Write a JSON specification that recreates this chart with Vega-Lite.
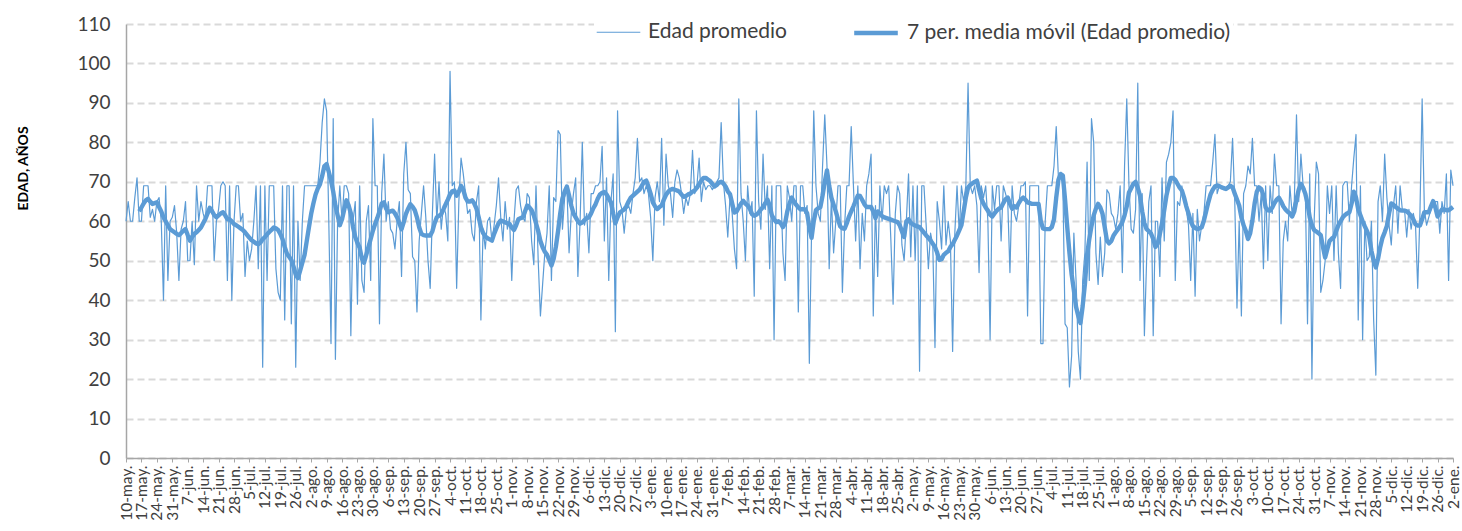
{
"$schema": "https://vega.github.io/schema/vega-lite/v6.json",
"width": 1327, "height": 434,
"padding": {"left": 16, "top": 7, "right": 4, "bottom": 0},
"background": "white",
"config": {"view": {"stroke": null}},
"data": {"values": [
{"f":"2020-05-10","e":60},{"f":"2020-05-11","e":65},{"f":"2020-05-12","e":60},{"f":"2020-05-13","e":60},{"f":"2020-05-14","e":66},{"f":"2020-05-15","e":71},
{"f":"2020-05-16","e":60,"m":62.5},{"f":"2020-05-17","e":60,"m":63.5},{"f":"2020-05-18","e":69,"m":64.5},{"f":"2020-05-19","e":69,"m":65.3},{"f":"2020-05-20","e":69,"m":65.7},{"f":"2020-05-21","e":61,"m":65},{"f":"2020-05-22","e":63,"m":64.4},{"f":"2020-05-23","e":60,"m":64.6},{"f":"2020-05-24","e":65,"m":64.8},{"f":"2020-05-25","e":66,"m":63.6},{"f":"2020-05-26","e":60,"m":62.5},{"f":"2020-05-27","e":40,"m":61},{"f":"2020-05-28","e":69,"m":60},{"f":"2020-05-29","e":45,"m":59},{"f":"2020-05-30","e":60,"m":58},{"f":"2020-05-31","e":61,"m":57.6},
{"f":"2020-06-01","e":64,"m":57.2},{"f":"2020-06-02","e":57,"m":56.8},{"f":"2020-06-03","e":45,"m":56.5},{"f":"2020-06-04","e":58,"m":57},{"f":"2020-06-05","e":60,"m":57.6},{"f":"2020-06-06","e":65,"m":58},{"f":"2020-06-07","e":50,"m":56.5},{"f":"2020-06-08","e":50,"m":55.1},{"f":"2020-06-09","e":60,"m":56},{"f":"2020-06-10","e":49,"m":56.8},{"f":"2020-06-11","e":69,"m":57.2},{"f":"2020-06-12","e":60,"m":57.8},{"f":"2020-06-13","e":65,"m":58.4},{"f":"2020-06-14","e":62,"m":59.5},{"f":"2020-06-15","e":60,"m":60.6},{"f":"2020-06-16","e":69,"m":62},{"f":"2020-06-17","e":69,"m":63.4},{"f":"2020-06-18","e":69,"m":62.6},{"f":"2020-06-19","e":50,"m":61.6},{"f":"2020-06-20","e":60,"m":61},{"f":"2020-06-21","e":63,"m":61.5},{"f":"2020-06-22","e":69,"m":62},{"f":"2020-06-23","e":70,"m":62.3},{"f":"2020-06-24","e":69,"m":61.5},{"f":"2020-06-25","e":45,"m":60.5},{"f":"2020-06-26","e":69,"m":60.5},{"f":"2020-06-27","e":40,"m":60},{"f":"2020-06-28","e":60,"m":59.3},{"f":"2020-06-29","e":69,"m":59},{"f":"2020-06-30","e":69,"m":58.6},
{"f":"2020-07-01","e":60,"m":58.2},{"f":"2020-07-02","e":62,"m":57.8},{"f":"2020-07-03","e":46,"m":57.2},{"f":"2020-07-04","e":55,"m":56.5},{"f":"2020-07-05","e":50,"m":55.8},{"f":"2020-07-06","e":53,"m":55.2},{"f":"2020-07-07","e":60,"m":54.8},{"f":"2020-07-08","e":69,"m":54.4},{"f":"2020-07-09","e":48,"m":54.2},{"f":"2020-07-10","e":69,"m":54.6},{"f":"2020-07-11","e":23,"m":55.5},{"f":"2020-07-12","e":69,"m":56},{"f":"2020-07-13","e":45,"m":56.7},{"f":"2020-07-14","e":69,"m":57.3},{"f":"2020-07-15","e":69,"m":57.8},{"f":"2020-07-16","e":69,"m":58.4},{"f":"2020-07-17","e":48,"m":58.2},{"f":"2020-07-18","e":42,"m":57.8},{"f":"2020-07-19","e":40,"m":56.8},{"f":"2020-07-20","e":69,"m":55.5},{"f":"2020-07-21","e":35,"m":53.5},{"f":"2020-07-22","e":69,"m":51.8},{"f":"2020-07-23","e":69,"m":51},{"f":"2020-07-24","e":34,"m":50.2},{"f":"2020-07-25","e":69,"m":48.5},{"f":"2020-07-26","e":23,"m":46.5},{"f":"2020-07-27","e":60,"m":45.6},{"f":"2020-07-28","e":45,"m":47.5},{"f":"2020-07-29","e":60,"m":49.5},{"f":"2020-07-30","e":69,"m":51.5},{"f":"2020-07-31","e":69,"m":55},
{"f":"2020-08-01","e":69,"m":58.5},{"f":"2020-08-02","e":69,"m":61.9},{"f":"2020-08-03","e":69,"m":64.5},{"f":"2020-08-04","e":69,"m":66.8},{"f":"2020-08-05","e":69,"m":68.3},{"f":"2020-08-06","e":75,"m":69.4},{"f":"2020-08-07","e":85,"m":71.5},{"f":"2020-08-08","e":91,"m":74},{"f":"2020-08-09","e":88,"m":74.5},{"f":"2020-08-10","e":60,"m":72.5},{"f":"2020-08-11","e":29,"m":70.3},{"f":"2020-08-12","e":86,"m":67.5},{"f":"2020-08-13","e":25,"m":64},{"f":"2020-08-14","e":60,"m":61.5},{"f":"2020-08-15","e":69,"m":59},{"f":"2020-08-16","e":60,"m":60.5},{"f":"2020-08-17","e":69,"m":63},{"f":"2020-08-18","e":69,"m":65.3},{"f":"2020-08-19","e":67,"m":64},{"f":"2020-08-20","e":31,"m":62},{"f":"2020-08-21","e":60,"m":58.5},{"f":"2020-08-22","e":65,"m":56},{"f":"2020-08-23","e":39,"m":54.5},{"f":"2020-08-24","e":69,"m":53.3},{"f":"2020-08-25","e":45,"m":50.5},{"f":"2020-08-26","e":42,"m":49.5},{"f":"2020-08-27","e":60,"m":51.5},{"f":"2020-08-28","e":64,"m":53.5},{"f":"2020-08-29","e":45,"m":55.5},{"f":"2020-08-30","e":86,"m":57.6},{"f":"2020-08-31","e":69,"m":59.3},
{"f":"2020-09-01","e":69,"m":60.8},{"f":"2020-09-02","e":34,"m":62.5},{"f":"2020-09-03","e":67,"m":64.5},{"f":"2020-09-04","e":77,"m":64.8},{"f":"2020-09-05","e":60,"m":63.2},{"f":"2020-09-06","e":65,"m":62.3},{"f":"2020-09-07","e":58,"m":62.5},{"f":"2020-09-08","e":57,"m":62.7},{"f":"2020-09-09","e":53,"m":62},{"f":"2020-09-10","e":60,"m":61},{"f":"2020-09-11","e":65,"m":59.5},{"f":"2020-09-12","e":46,"m":58},{"f":"2020-09-13","e":72,"m":59.8},{"f":"2020-09-14","e":80,"m":61.9},{"f":"2020-09-15","e":68,"m":63.2},{"f":"2020-09-16","e":67,"m":64.3},{"f":"2020-09-17","e":51,"m":63.7},{"f":"2020-09-18","e":50,"m":62.8},{"f":"2020-09-19","e":37,"m":61},{"f":"2020-09-20","e":55,"m":58.5},{"f":"2020-09-21","e":62,"m":56.8},{"f":"2020-09-22","e":69,"m":56.5},{"f":"2020-09-23","e":61,"m":56.4},{"f":"2020-09-24","e":50,"m":56.4},{"f":"2020-09-25","e":43,"m":56.4},{"f":"2020-09-26","e":62,"m":57.5},{"f":"2020-09-27","e":77,"m":59.5},{"f":"2020-09-28","e":60,"m":61},{"f":"2020-09-29","e":70,"m":61.4},{"f":"2020-09-30","e":58,"m":61.8},
{"f":"2020-10-01","e":64,"m":63},{"f":"2020-10-02","e":62,"m":64.3},{"f":"2020-10-03","e":55,"m":65.5},{"f":"2020-10-04","e":98,"m":66.8},{"f":"2020-10-05","e":69,"m":67.6},{"f":"2020-10-06","e":70,"m":67.8},{"f":"2020-10-07","e":43,"m":66.5},{"f":"2020-10-08","e":65,"m":67.5},{"f":"2020-10-09","e":76,"m":69},{"f":"2020-10-10","e":72,"m":68},{"f":"2020-10-11","e":67,"m":66},{"f":"2020-10-12","e":62,"m":65},{"f":"2020-10-13","e":63,"m":65},{"f":"2020-10-14","e":57,"m":65.3},{"f":"2020-10-15","e":55,"m":64.5},{"f":"2020-10-16","e":65,"m":63.2},{"f":"2020-10-17","e":69,"m":61},{"f":"2020-10-18","e":35,"m":58.5},{"f":"2020-10-19","e":58,"m":57},{"f":"2020-10-20","e":53,"m":56.2},{"f":"2020-10-21","e":60,"m":55.7},{"f":"2020-10-22","e":61,"m":55.4},{"f":"2020-10-23","e":55,"m":55.1},{"f":"2020-10-24","e":59,"m":56.8},{"f":"2020-10-25","e":64,"m":58.2},{"f":"2020-10-26","e":71,"m":59.5},{"f":"2020-10-27","e":61,"m":60.2},{"f":"2020-10-28","e":55,"m":60},{"f":"2020-10-29","e":65,"m":59.7},{"f":"2020-10-30","e":58,"m":59.5},{"f":"2020-10-31","e":61,"m":59.3},
{"f":"2020-11-01","e":45,"m":58.4},{"f":"2020-11-02","e":60,"m":57.8},{"f":"2020-11-03","e":68,"m":59},{"f":"2020-11-04","e":69,"m":60.5},{"f":"2020-11-05","e":64,"m":60.8},{"f":"2020-11-06","e":61,"m":61},{"f":"2020-11-07","e":60,"m":62.5},{"f":"2020-11-08","e":67,"m":64},{"f":"2020-11-09","e":66,"m":63.5},{"f":"2020-11-10","e":55,"m":62.8},{"f":"2020-11-11","e":49,"m":61.5},{"f":"2020-11-12","e":69,"m":59.5},{"f":"2020-11-13","e":50,"m":57.5},{"f":"2020-11-14","e":36,"m":55},{"f":"2020-11-15","e":44,"m":53.4},{"f":"2020-11-16","e":52,"m":52.3},{"f":"2020-11-17","e":57,"m":51.5},{"f":"2020-11-18","e":69,"m":50.2},{"f":"2020-11-19","e":45,"m":48.8},{"f":"2020-11-20","e":66,"m":50.5},{"f":"2020-11-21","e":65,"m":53.5},{"f":"2020-11-22","e":83,"m":57.5},{"f":"2020-11-23","e":82,"m":62},{"f":"2020-11-24","e":58,"m":65.8},{"f":"2020-11-25","e":66,"m":67.5},{"f":"2020-11-26","e":69,"m":68.8},{"f":"2020-11-27","e":52,"m":66.5},{"f":"2020-11-28","e":62,"m":64},{"f":"2020-11-29","e":67,"m":62},{"f":"2020-11-30","e":71,"m":61},
{"f":"2020-12-01","e":46,"m":60},{"f":"2020-12-02","e":60,"m":59.4},{"f":"2020-12-03","e":80,"m":59.7},{"f":"2020-12-04","e":59,"m":60.3},{"f":"2020-12-05","e":62,"m":60.8},{"f":"2020-12-06","e":52,"m":61},{"f":"2020-12-07","e":67,"m":62},{"f":"2020-12-08","e":67,"m":63.3},{"f":"2020-12-09","e":69,"m":64.3},{"f":"2020-12-10","e":69,"m":65.7},{"f":"2020-12-11","e":70,"m":66.8},{"f":"2020-12-12","e":79,"m":67.2},{"f":"2020-12-13","e":55,"m":67.4},{"f":"2020-12-14","e":71,"m":66.8},{"f":"2020-12-15","e":45,"m":65.8},{"f":"2020-12-16","e":65,"m":64.8},{"f":"2020-12-17","e":72,"m":62},{"f":"2020-12-18","e":32,"m":59.5},{"f":"2020-12-19","e":88,"m":61},{"f":"2020-12-20","e":65,"m":62.2},{"f":"2020-12-21","e":63,"m":62.6},{"f":"2020-12-22","e":57,"m":63},{"f":"2020-12-23","e":63,"m":63.8},{"f":"2020-12-24","e":64,"m":65},{"f":"2020-12-25","e":62,"m":66},{"f":"2020-12-26","e":67,"m":66.5},{"f":"2020-12-27","e":71,"m":67},{"f":"2020-12-28","e":81,"m":67.5},{"f":"2020-12-29","e":70,"m":68},{"f":"2020-12-30","e":71,"m":69},{"f":"2020-12-31","e":67,"m":70},
{"f":"2021-01-01","e":69,"m":70.3},{"f":"2021-01-02","e":67,"m":68.8},{"f":"2021-01-03","e":61,"m":67},{"f":"2021-01-04","e":50,"m":64.8},{"f":"2021-01-05","e":66,"m":63.8},{"f":"2021-01-06","e":70,"m":63.1},{"f":"2021-01-07","e":65,"m":63.6},{"f":"2021-01-08","e":81,"m":64},{"f":"2021-01-09","e":59,"m":65.5},{"f":"2021-01-10","e":77,"m":66.7},{"f":"2021-01-11","e":69,"m":67.5},{"f":"2021-01-12","e":67,"m":68},{"f":"2021-01-13","e":61,"m":68.2},{"f":"2021-01-14","e":70,"m":68},{"f":"2021-01-15","e":73,"m":67.8},{"f":"2021-01-16","e":71,"m":67.5},{"f":"2021-01-17","e":67,"m":66.8},{"f":"2021-01-18","e":62,"m":66.2},{"f":"2021-01-19","e":66,"m":66.4},{"f":"2021-01-20","e":64,"m":66.8},{"f":"2021-01-21","e":67,"m":67},{"f":"2021-01-22","e":78,"m":67.5},{"f":"2021-01-23","e":67,"m":67.8},{"f":"2021-01-24","e":69,"m":68.5},{"f":"2021-01-25","e":76,"m":69.4},{"f":"2021-01-26","e":65,"m":70.3},{"f":"2021-01-27","e":70,"m":71},{"f":"2021-01-28","e":68,"m":71},{"f":"2021-01-29","e":69,"m":70.6},{"f":"2021-01-30","e":69,"m":70.2},{"f":"2021-01-31","e":68,"m":69.5},
{"f":"2021-02-01","e":69,"m":68.8},{"f":"2021-02-02","e":70,"m":69.2},{"f":"2021-02-03","e":71,"m":69.8},{"f":"2021-02-04","e":85,"m":70},{"f":"2021-02-05","e":70,"m":69.6},{"f":"2021-02-06","e":64,"m":68.8},{"f":"2021-02-07","e":56,"m":67.6},{"f":"2021-02-08","e":66,"m":66.9},{"f":"2021-02-09","e":62,"m":64.5},{"f":"2021-02-10","e":53,"m":62.2},{"f":"2021-02-11","e":48,"m":62.5},{"f":"2021-02-12","e":91,"m":63.5},{"f":"2021-02-13","e":67,"m":64.5},{"f":"2021-02-14","e":60,"m":65.2},{"f":"2021-02-15","e":50,"m":64.5},{"f":"2021-02-16","e":69,"m":64},{"f":"2021-02-17","e":62,"m":63.2},{"f":"2021-02-18","e":65,"m":61.8},{"f":"2021-02-19","e":41,"m":61.4},{"f":"2021-02-20","e":88,"m":61.7},{"f":"2021-02-21","e":65,"m":62.2},{"f":"2021-02-22","e":58,"m":63},{"f":"2021-02-23","e":77,"m":63.6},{"f":"2021-02-24","e":63,"m":64.6},{"f":"2021-02-25","e":69,"m":65.5},{"f":"2021-02-26","e":48,"m":64},{"f":"2021-02-27","e":69,"m":61.5},{"f":"2021-02-28","e":30,"m":60.5},
{"f":"2021-03-01","e":69,"m":59.8},{"f":"2021-03-02","e":69,"m":60},{"f":"2021-03-03","e":69,"m":59.5},{"f":"2021-03-04","e":52,"m":58.5},{"f":"2021-03-05","e":45,"m":59.5},{"f":"2021-03-06","e":69,"m":62.5},{"f":"2021-03-07","e":66,"m":64.5},{"f":"2021-03-08","e":60,"m":66},{"f":"2021-03-09","e":69,"m":65},{"f":"2021-03-10","e":69,"m":64.2},{"f":"2021-03-11","e":37,"m":63.5},{"f":"2021-03-12","e":69,"m":63},{"f":"2021-03-13","e":69,"m":63.1},{"f":"2021-03-14","e":62,"m":63},{"f":"2021-03-15","e":64,"m":62},{"f":"2021-03-16","e":24,"m":58.5},{"f":"2021-03-17","e":57,"m":55.8},{"f":"2021-03-18","e":88,"m":60},{"f":"2021-03-19","e":69,"m":62.8},{"f":"2021-03-20","e":62,"m":63.3},{"f":"2021-03-21","e":60,"m":63.6},{"f":"2021-03-22","e":74,"m":66.5},{"f":"2021-03-23","e":87,"m":70},{"f":"2021-03-24","e":74,"m":72.9},{"f":"2021-03-25","e":48,"m":69},{"f":"2021-03-26","e":66,"m":66},{"f":"2021-03-27","e":52,"m":64.2},{"f":"2021-03-28","e":60,"m":62.5},{"f":"2021-03-29","e":69,"m":60.5},{"f":"2021-03-30","e":69,"m":58.7},{"f":"2021-03-31","e":42,"m":58.2},
{"f":"2021-04-01","e":59,"m":58.1},{"f":"2021-04-02","e":69,"m":59.5},{"f":"2021-04-03","e":69,"m":61.2},{"f":"2021-04-04","e":84,"m":62.5},{"f":"2021-04-05","e":69,"m":63.8},{"f":"2021-04-06","e":55,"m":65.2},{"f":"2021-04-07","e":69,"m":66.5},{"f":"2021-04-08","e":48,"m":66.4},{"f":"2021-04-09","e":62,"m":65.4},{"f":"2021-04-10","e":55,"m":64.3},{"f":"2021-04-11","e":69,"m":63.6},{"f":"2021-04-12","e":72,"m":63.6},{"f":"2021-04-13","e":77,"m":63.6},{"f":"2021-04-14","e":36,"m":62.5},{"f":"2021-04-15","e":64,"m":60.8},{"f":"2021-04-16","e":46,"m":62.5},{"f":"2021-04-17","e":69,"m":62},{"f":"2021-04-18","e":60,"m":61.3},{"f":"2021-04-19","e":69,"m":61},{"f":"2021-04-20","e":67,"m":60.8},{"f":"2021-04-21","e":69,"m":60.6},{"f":"2021-04-22","e":55,"m":60.4},{"f":"2021-04-23","e":39,"m":60.2},{"f":"2021-04-24","e":62,"m":60},{"f":"2021-04-25","e":69,"m":59.8},{"f":"2021-04-26","e":67,"m":59},{"f":"2021-04-27","e":54,"m":57.5},{"f":"2021-04-28","e":50,"m":56},{"f":"2021-04-29","e":60,"m":60},{"f":"2021-04-30","e":72,"m":60.5},
{"f":"2021-05-01","e":51,"m":59.6},{"f":"2021-05-02","e":69,"m":59.2},{"f":"2021-05-03","e":50,"m":58.9},{"f":"2021-05-04","e":69,"m":58.7},{"f":"2021-05-05","e":22,"m":58.5},{"f":"2021-05-06","e":69,"m":57.8},{"f":"2021-05-07","e":69,"m":57.1},{"f":"2021-05-08","e":59,"m":56.4},{"f":"2021-05-09","e":48,"m":55.8},{"f":"2021-05-10","e":57,"m":55.1},{"f":"2021-05-11","e":54,"m":54.3},{"f":"2021-05-12","e":28,"m":53.5},{"f":"2021-05-13","e":65,"m":52},{"f":"2021-05-14","e":60,"m":50.2},{"f":"2021-05-15","e":53,"m":50.4},{"f":"2021-05-16","e":69,"m":51.5},{"f":"2021-05-17","e":54,"m":52},{"f":"2021-05-18","e":60,"m":52.4},{"f":"2021-05-19","e":55,"m":53.5},{"f":"2021-05-20","e":27,"m":54.2},{"f":"2021-05-21","e":57,"m":55.3},{"f":"2021-05-22","e":69,"m":56.4},{"f":"2021-05-23","e":57,"m":57.7},{"f":"2021-05-24","e":69,"m":59},{"f":"2021-05-25","e":65,"m":62.5},{"f":"2021-05-26","e":69,"m":66},{"f":"2021-05-27","e":95,"m":68.5},{"f":"2021-05-28","e":69,"m":69.2},{"f":"2021-05-29","e":67,"m":69.6},{"f":"2021-05-30","e":69,"m":70},{"f":"2021-05-31","e":64,"m":70.3},
{"f":"2021-06-01","e":47,"m":68},{"f":"2021-06-02","e":69,"m":65.8},{"f":"2021-06-03","e":66,"m":64.5},{"f":"2021-06-04","e":69,"m":63.5},{"f":"2021-06-05","e":60,"m":62.7},{"f":"2021-06-06","e":30,"m":61.7},{"f":"2021-06-07","e":69,"m":61.2},{"f":"2021-06-08","e":63,"m":62},{"f":"2021-06-09","e":69,"m":62.7},{"f":"2021-06-10","e":69,"m":63.2},{"f":"2021-06-11","e":55,"m":63.5},{"f":"2021-06-12","e":69,"m":64.6},{"f":"2021-06-13","e":67,"m":65.6},{"f":"2021-06-14","e":65,"m":66},{"f":"2021-06-15","e":47,"m":64.5},{"f":"2021-06-16","e":69,"m":63.2},{"f":"2021-06-17","e":62,"m":63.8},{"f":"2021-06-18","e":60,"m":63.5},{"f":"2021-06-19","e":64,"m":64.6},{"f":"2021-06-20","e":69,"m":65.5},{"f":"2021-06-21","e":69,"m":66},{"f":"2021-06-22","e":70,"m":65.5},{"f":"2021-06-23","e":36,"m":64.8},{"f":"2021-06-24","e":69,"m":64.6},{"f":"2021-06-25","e":69,"m":64.4},{"f":"2021-06-26","e":69,"m":64.4},{"f":"2021-06-27","e":69,"m":64.4},{"f":"2021-06-28","e":69,"m":64.4},{"f":"2021-06-29","e":29,"m":60},{"f":"2021-06-30","e":29,"m":58.2},
{"f":"2021-07-01","e":60,"m":58},{"f":"2021-07-02","e":69,"m":58},{"f":"2021-07-03","e":69,"m":58},{"f":"2021-07-04","e":69,"m":58.5},{"f":"2021-07-05","e":74,"m":60.5},{"f":"2021-07-06","e":84,"m":66},{"f":"2021-07-07","e":71,"m":70.5},{"f":"2021-07-08","e":71,"m":72},{"f":"2021-07-09","e":70,"m":71.6},{"f":"2021-07-10","e":34,"m":65.5},{"f":"2021-07-11","e":33,"m":58.5},{"f":"2021-07-12","e":18,"m":52},{"f":"2021-07-13","e":26,"m":46.5},{"f":"2021-07-14","e":57,"m":42.5},{"f":"2021-07-15","e":45,"m":38.3},{"f":"2021-07-16","e":27,"m":36},{"f":"2021-07-17","e":20,"m":34.2},{"f":"2021-07-18","e":45,"m":38.5},{"f":"2021-07-19","e":52,"m":44},{"f":"2021-07-20","e":75,"m":51.5},{"f":"2021-07-21","e":45,"m":55.5},{"f":"2021-07-22","e":86,"m":58.8},{"f":"2021-07-23","e":80,"m":61.5},{"f":"2021-07-24","e":52,"m":63.2},{"f":"2021-07-25","e":44,"m":64.4},{"f":"2021-07-26","e":56,"m":63.5},{"f":"2021-07-27","e":46,"m":61.9},{"f":"2021-07-28","e":52,"m":58.5},{"f":"2021-07-29","e":68,"m":55.1},{"f":"2021-07-30","e":67,"m":54.4},{"f":"2021-07-31","e":62,"m":55},
{"f":"2021-08-01","e":61,"m":56.4},{"f":"2021-08-02","e":58,"m":57.2},{"f":"2021-08-03","e":62,"m":58},{"f":"2021-08-04","e":69,"m":58.8},{"f":"2021-08-05","e":47,"m":59.8},{"f":"2021-08-06","e":74,"m":61.5},{"f":"2021-08-07","e":91,"m":63.8},{"f":"2021-08-08","e":69,"m":67.3},{"f":"2021-08-09","e":58,"m":68.4},{"f":"2021-08-10","e":57,"m":69.5},{"f":"2021-08-11","e":63,"m":70},{"f":"2021-08-12","e":95,"m":68.5},{"f":"2021-08-13","e":45,"m":66.5},{"f":"2021-08-14","e":67,"m":62.5},{"f":"2021-08-15","e":31,"m":59.5},{"f":"2021-08-16","e":50,"m":58},{"f":"2021-08-17","e":65,"m":57.5},{"f":"2021-08-18","e":69,"m":56.9},{"f":"2021-08-19","e":31,"m":55.5},{"f":"2021-08-20","e":60,"m":53.5},{"f":"2021-08-21","e":60,"m":54.3},{"f":"2021-08-22","e":46,"m":56.8},{"f":"2021-08-23","e":71,"m":59.5},{"f":"2021-08-24","e":55,"m":62.8},{"f":"2021-08-25","e":75,"m":66.5},{"f":"2021-08-26","e":77,"m":69},{"f":"2021-08-27","e":80,"m":71},{"f":"2021-08-28","e":88,"m":71},{"f":"2021-08-29","e":45,"m":70.5},{"f":"2021-08-30","e":65,"m":69.5},{"f":"2021-08-31","e":64,"m":68.5},
{"f":"2021-09-01","e":69,"m":67.8},{"f":"2021-09-02","e":65,"m":66},{"f":"2021-09-03","e":63,"m":63.8},{"f":"2021-09-04","e":59,"m":62},{"f":"2021-09-05","e":45,"m":60},{"f":"2021-09-06","e":62,"m":58.8},{"f":"2021-09-07","e":41,"m":58.3},{"f":"2021-09-08","e":63,"m":58},{"f":"2021-09-09","e":55,"m":58.2},{"f":"2021-09-10","e":59,"m":58.5},{"f":"2021-09-11","e":62,"m":60.2},{"f":"2021-09-12","e":69,"m":62.5},{"f":"2021-09-13","e":69,"m":64.8},{"f":"2021-09-14","e":69,"m":66.8},{"f":"2021-09-15","e":75,"m":68},{"f":"2021-09-16","e":82,"m":68.8},{"f":"2021-09-17","e":67,"m":69.1},{"f":"2021-09-18","e":69,"m":68.9},{"f":"2021-09-19","e":69,"m":68.6},{"f":"2021-09-20","e":68,"m":68.4},{"f":"2021-09-21","e":68,"m":68.2},{"f":"2021-09-22","e":69,"m":68.6},{"f":"2021-09-23","e":70,"m":69},{"f":"2021-09-24","e":81,"m":68.6},{"f":"2021-09-25","e":65,"m":67},{"f":"2021-09-26","e":38,"m":65.5},{"f":"2021-09-27","e":60,"m":64},{"f":"2021-09-28","e":36,"m":61},{"f":"2021-09-29","e":67,"m":59},{"f":"2021-09-30","e":69,"m":57.6},
{"f":"2021-10-01","e":74,"m":55.5},{"f":"2021-10-02","e":72,"m":57},{"f":"2021-10-03","e":81,"m":60.2},{"f":"2021-10-04","e":69,"m":64.5},{"f":"2021-10-05","e":69,"m":67.5},{"f":"2021-10-06","e":60,"m":68.6},{"f":"2021-10-07","e":67,"m":68.2},{"f":"2021-10-08","e":48,"m":66.5},{"f":"2021-10-09","e":69,"m":63.5},{"f":"2021-10-10","e":50,"m":62.8},{"f":"2021-10-11","e":69,"m":62.7},{"f":"2021-10-12","e":62,"m":63.5},{"f":"2021-10-13","e":77,"m":64.6},{"f":"2021-10-14","e":69,"m":65.5},{"f":"2021-10-15","e":69,"m":66},{"f":"2021-10-16","e":34,"m":65},{"f":"2021-10-17","e":55,"m":63.8},{"f":"2021-10-18","e":60,"m":63},{"f":"2021-10-19","e":55,"m":62.4},{"f":"2021-10-20","e":69,"m":62},{"f":"2021-10-21","e":62,"m":61.2},{"f":"2021-10-22","e":65,"m":62.5},{"f":"2021-10-23","e":87,"m":65.5},{"f":"2021-10-24","e":65,"m":68},{"f":"2021-10-25","e":77,"m":69.5},{"f":"2021-10-26","e":69,"m":68.5},{"f":"2021-10-27","e":68,"m":67},{"f":"2021-10-28","e":34,"m":64.5},{"f":"2021-10-29","e":72,"m":61},{"f":"2021-10-30","e":20,"m":59},{"f":"2021-10-31","e":60,"m":57.8},
{"f":"2021-11-01","e":75,"m":57.4},{"f":"2021-11-02","e":72,"m":57},{"f":"2021-11-03","e":42,"m":56.5},{"f":"2021-11-04","e":45,"m":53.5},{"f":"2021-11-05","e":50,"m":50.8},{"f":"2021-11-06","e":69,"m":53},{"f":"2021-11-07","e":62,"m":55},{"f":"2021-11-08","e":69,"m":55.6},{"f":"2021-11-09","e":50,"m":56},{"f":"2021-11-10","e":69,"m":57.5},{"f":"2021-11-11","e":52,"m":59},{"f":"2021-11-12","e":43,"m":60},{"f":"2021-11-13","e":69,"m":61},{"f":"2021-11-14","e":70,"m":61.6},{"f":"2021-11-15","e":70,"m":62},{"f":"2021-11-16","e":60,"m":62.3},{"f":"2021-11-17","e":69,"m":64.5},{"f":"2021-11-18","e":76,"m":67.5},{"f":"2021-11-19","e":82,"m":66},{"f":"2021-11-20","e":35,"m":63},{"f":"2021-11-21","e":69,"m":61.5},{"f":"2021-11-22","e":30,"m":60},{"f":"2021-11-23","e":60,"m":58.7},{"f":"2021-11-24","e":50,"m":57.5},{"f":"2021-11-25","e":51,"m":56},{"f":"2021-11-26","e":60,"m":52.5},{"f":"2021-11-27","e":35,"m":50},{"f":"2021-11-28","e":21,"m":48.3},{"f":"2021-11-29","e":65,"m":50.5},{"f":"2021-11-30","e":69,"m":53.5},
{"f":"2021-12-01","e":60,"m":55.8},{"f":"2021-12-02","e":77,"m":57.2},{"f":"2021-12-03","e":66,"m":58.8},{"f":"2021-12-04","e":59,"m":62},{"f":"2021-12-05","e":54,"m":64.5},{"f":"2021-12-06","e":64,"m":64.2},{"f":"2021-12-07","e":69,"m":63.6},{"f":"2021-12-08","e":57,"m":63.2},{"f":"2021-12-09","e":69,"m":62.8},{"f":"2021-12-10","e":63,"m":62.7},{"f":"2021-12-11","e":63,"m":62.7},{"f":"2021-12-12","e":56,"m":62.5},{"f":"2021-12-13","e":63,"m":62},{"f":"2021-12-14","e":58,"m":61.4},{"f":"2021-12-15","e":62,"m":60.5},{"f":"2021-12-16","e":59,"m":59.2},{"f":"2021-12-17","e":43,"m":58.9},{"f":"2021-12-18","e":62,"m":58.9},{"f":"2021-12-19","e":91,"m":60.5},{"f":"2021-12-20","e":63,"m":62.3},{"f":"2021-12-21","e":59,"m":62.3},{"f":"2021-12-22","e":61,"m":62.3},{"f":"2021-12-23","e":63,"m":63.8},{"f":"2021-12-24","e":64,"m":65.1},{"f":"2021-12-25","e":65,"m":63.5},{"f":"2021-12-26","e":65,"m":61.2},{"f":"2021-12-27","e":57,"m":62.2},{"f":"2021-12-28","e":65,"m":63},{"f":"2021-12-29","e":62,"m":63},{"f":"2021-12-30","e":72,"m":62.8},{"f":"2021-12-31","e":45,"m":62.8},
{"f":"2022-01-01","e":73,"m":63.2},{"f":"2022-01-02","e":69,"m":63.6}
]},
"transform": [{"fold": ["e", "m"], "as": ["serie", "valor"]}],
"mark": {"type": "line", "interpolate": "linear", "strokeCap": "butt", "strokeJoin": "round"},
"encoding": {
  "x": {"field": "f", "type": "temporal",
    "scale": {"type": "utc", "domain": [{"year": 2020, "month": 5, "date": 10, "utc": true}, {"year": 2022, "month": 1, "date": 2, "utc": true}]},
    "axis": {"title": null, "grid": false, "tickCount": {"interval": "week", "step": 1},
      "labelExpr": "utcdate(datum.value) + '-' + ['ene','feb','mar','abr','may','jun','jul','ago','sep','oct','nov','dic'][utcmonth(datum.value)] + '.'",
      "labelAngle": 270, "labelOverlap": false, "labelFlush": false, "labelFont": "Lato", "labelFontSize": 15.5, "labelColor": "#404040", "labelPadding": 3,
      "ticks": true, "tickSize": 4, "tickColor": "#a6a6a6", "domainColor": "#a6a6a6", "domainWidth": 1.5}},
  "y": {"field": "valor", "type": "quantitative",
    "scale": {"domain": [0, 110], "nice": false, "zero": true},
    "axis": {"title": "EDAD, AÑOS", "titleFont": "Lato", "titleFontSize": 14, "titleFontWeight": "bold", "titleColor": "#000000", "titlePadding": 46, "titleY": 144,
      "values": [0,10,20,30,40,50,60,70,80,90,100,110],
      "labelFont": "Lato", "labelFontSize": 19, "labelColor": "#404040", "labelPadding": 16,
      "ticks": false, "domainColor": "#a6a6a6", "domainWidth": 1.5,
      "grid": true, "gridColor": "#d9d9d9", "gridDash": [7, 4], "gridWidth": 2}},
  "color": {"field": "serie", "type": "ordinal",
    "scale": {"domain": ["e", "m"], "range": ["#5B9BD5", "#5B9BD5"]},
    "legend": {"title": null, "orient": "none", "legendX": 468, "legendY": -17, "direction": "horizontal",
      "labelExpr": "datum.value == 'e' ? 'Edad promedio' : '7 per. media móvil (Edad promedio)'",
      "labelFont": "Lato", "labelFontSize": 21, "labelColor": "#404040", "labelLimit": 0, "symbolType": "stroke", "symbolSize": 1900,
      "labelOffset": 7, "columnPadding": 58, "fillColor": "white", "padding": 2}},
  "strokeWidth": {"field": "serie", "type": "ordinal",
    "scale": {"domain": ["e", "m"], "range": [1.2, 4.4]},
    "legend": {"title": null, "orient": "none", "legendX": 468, "legendY": -17, "direction": "horizontal",
      "labelExpr": "datum.value == 'e' ? 'Edad promedio' : '7 per. media móvil (Edad promedio)'",
      "labelFont": "Lato", "labelFontSize": 21, "labelColor": "#404040", "labelLimit": 0, "symbolType": "stroke", "symbolSize": 1900,
      "labelOffset": 7, "columnPadding": 58, "fillColor": "white", "padding": 2}}
}
}
